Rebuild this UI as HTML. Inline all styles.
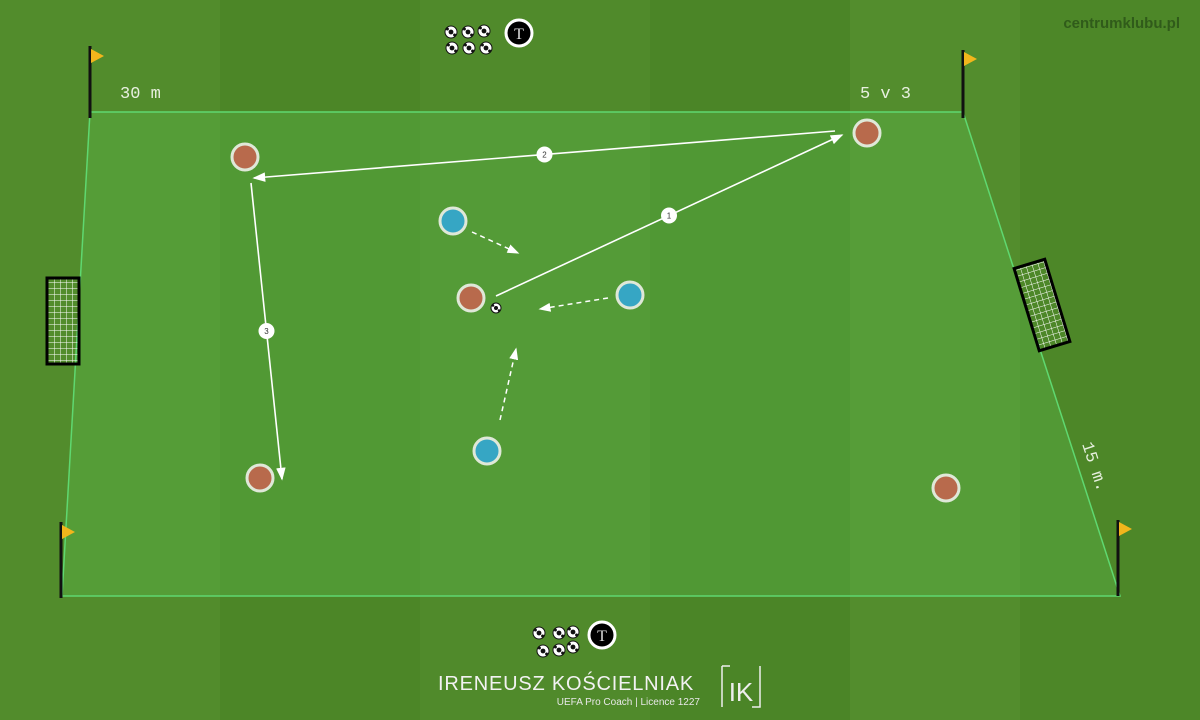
<!DOCTYPE html>
<html><head><meta charset="utf-8"><style>
html,body{margin:0;padding:0;width:1200px;height:720px;overflow:hidden;background:#4e8a28}
svg{display:block}
</style></head><body>
<svg width="1200" height="720" viewBox="0 0 1200 720" xmlns="http://www.w3.org/2000/svg">
<defs>
<pattern id="net" width="6" height="6" patternUnits="userSpaceOnUse"><path d="M0 0H6M0 0V6" stroke="#fff" stroke-width="1"/></pattern>
<marker id="ah" markerWidth="8" markerHeight="8" refX="7" refY="4" orient="auto"><path d="M0 1L8 4L0 7z" fill="#fff"/></marker>
</defs>
<g>
<rect width="1200" height="720" fill="#508a2b"/>
<rect x="0" y="0" width="220" height="720" fill="#528c2c"/>
<rect x="220" y="0" width="200" height="720" fill="#4c8627"/>
<rect x="420" y="0" width="230" height="720" fill="#508a2b"/>
<rect x="650" y="0" width="200" height="720" fill="#4b8527"/>
<rect x="850" y="0" width="170" height="720" fill="#538d2d"/>
<rect x="1020" y="0" width="180" height="720" fill="#4d8728"/>
</g>
<polygon points="90,112 963,112 1120,596 62,596" fill="#5cc050" fill-opacity="0.32" stroke="#5fd870" stroke-width="1.5"/>
<g>
<rect x="47" y="278" width="32" height="86" fill="url(#net)" stroke="#000" stroke-width="3"/>
</g>
<g transform="rotate(-17 1042 305)">
<rect x="1026" y="262" width="32" height="86" fill="url(#net)" stroke="#000" stroke-width="3"/>
</g>
<g>
<line x1="90" y1="46" x2="90" y2="118" stroke="#111" stroke-width="3"/><polygon points="91,49 104,56 91,63" fill="#f2b61c"/>
<line x1="963" y1="50" x2="963" y2="118" stroke="#111" stroke-width="3"/><polygon points="964,52 977,59 964,66" fill="#f2b61c"/>
<line x1="61" y1="522" x2="61" y2="598" stroke="#111" stroke-width="3"/><polygon points="62,525 75,532 62,539" fill="#f2b61c"/>
<line x1="1118" y1="520" x2="1118" y2="596" stroke="#111" stroke-width="3"/><polygon points="1119,522 1132,529 1119,536" fill="#f2b61c"/>
</g>
<text x="120" y="98" font-family="Liberation Mono, monospace" font-size="17" fill="#e8f0e0">30 m</text>
<text x="860" y="98" font-family="Liberation Mono, monospace" font-size="17" fill="#e8f0e0">5 v 3</text>
<text transform="translate(1082,444) rotate(72)" font-family="Liberation Mono, monospace" font-size="17" fill="#e8f0e0">15 m.</text>
<text x="1180" y="28" text-anchor="end" font-family="Liberation Sans, sans-serif" font-size="15" font-weight="bold" fill="#2c5418" fill-opacity="0.85">centrumklubu.pl</text>
<g id="passes"></g>
<g id="runs"></g>
<g id="players"></g>
<g id="equip"></g>
<g>
<text x="566" y="690" text-anchor="middle" font-family="Liberation Sans, sans-serif" font-size="20" fill="#f2f2f2" letter-spacing="0.8">IRENEUSZ KOŚCIELNIAK</text>
<text x="700" y="705" text-anchor="end" font-family="Liberation Sans, sans-serif" font-size="10" fill="#e8e8e8">UEFA Pro Coach  |  Licence 1227</text>
<path d="M722 666V707M722 666H730M760 666V707H752" stroke="#eee" stroke-width="1.5" fill="none"/>
<text x="741" y="701" text-anchor="middle" font-family="Liberation Sans, sans-serif" font-size="26" fill="#eee">IK</text>
</g>
</svg>
<script>
const NS='http://www.w3.org/2000/svg';
const redX=[245,867,471,260,946], redY=[157,133,298,478,488];
const blueX=[453,630,487], blueY=[221,295,451];
const passFrom=[[496,296],[835,131],[251,183]], passTo=[[842,135],[254,178],[282,479]], passNum=['1','2','3'];
const runFrom=[[472,232],[608,298],[500,420]], runTo=[[518,253],[540,309],[516,349]];
function mk(t,a,p){const e=document.createElementNS(NS,t);for(const k in a)e.setAttribute(k,a[k]);p.appendChild(e);return e;}
const P=document.getElementById('players');
redX.forEach((x,i)=>{const c=mk('circle',{cx:x,cy:redY[i],r:13,fill:'#b86a4c',stroke:'#dfe8d8','stroke-width':3},P);

});
blueX.forEach((x,i)=>{const c=mk('circle',{cx:x,cy:blueY[i],r:13,fill:'#36a6c4',stroke:'#dfe8d8','stroke-width':3},P);

});
const G=document.getElementById('passes');
passFrom.forEach((f,i)=>{const t=passTo[i];
const l=mk('line',{x1:f[0],y1:f[1],x2:t[0],y2:t[1],stroke:'#fff','stroke-width':1.6,'marker-end':'url(#ah)'},G);


const mx=(f[0]+t[0])/2,my=(f[1]+t[1])/2;
const c=mk('circle',{cx:mx,cy:my,r:8,fill:'#fff'},G);


const tx=mk('text',{x:mx,y:my+3,'text-anchor':'middle','font-size':8,'font-family':'Liberation Sans, sans-serif',fill:'#333'},G);tx.textContent=passNum[i];});
const R=document.getElementById('runs');
runFrom.forEach((f,i)=>{const t=runTo[i];
const l=mk('line',{x1:f[0],y1:f[1],x2:t[0],y2:t[1],stroke:'#fff','stroke-width':1.5,'stroke-dasharray':'5 4','marker-end':'url(#ah)'},R);

});
const E=document.getElementById('equip');
function ball(x,y,r){const b=mk('circle',{cx:x,cy:y,r:r,fill:'#fff',stroke:'#111','stroke-width':1},E);


mk('circle',{cx:x,cy:y,r:r*0.4,fill:'#111'},E);
mk('circle',{cx:x-r*0.6,cy:y-r*0.5,r:r*0.25,fill:'#111'},E);
mk('circle',{cx:x+r*0.6,cy:y+r*0.5,r:r*0.25,fill:'#111'},E);}
ball(496,308,5);
[[451,32],[468,32],[484,31],[452,48],[469,48],[486,48],[539,633],[559,633],[573,632],[543,651],[559,650],[573,647]].forEach(p=>ball(p[0],p[1],6));
[[519,33],[602,635]].forEach(p=>{const c=mk('circle',{cx:p[0],cy:p[1],r:13,fill:'#000',stroke:'#fff','stroke-width':3},E);


const t=mk('text',{x:p[0],y:p[1]+6,'text-anchor':'middle','font-size':16,'font-family':'Liberation Serif, serif',fill:'#ddd'},E);t.textContent='T';});
</script>
</body></html>
